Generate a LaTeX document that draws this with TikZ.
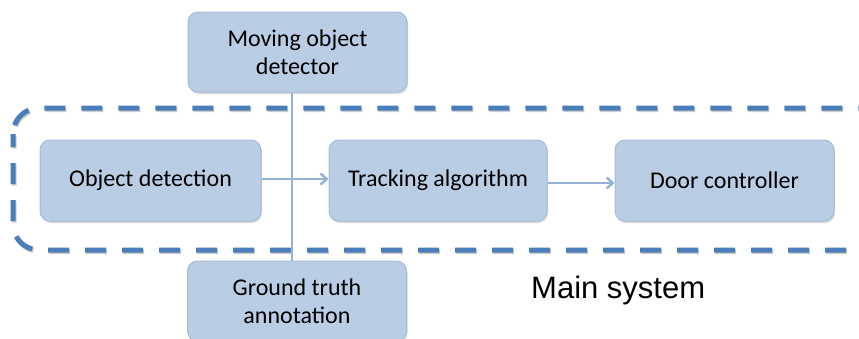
\documentclass[tikz,border=0pt]{standalone}
\usepackage{fontspec}
\setmainfont{Carlito}
\newfontfamily\labelfont{Liberation Sans}
\usetikzlibrary{arrows.meta,shadows}
\definecolor{boxfill}{HTML}{B9CDE5}
\definecolor{boxborder}{HTML}{A3BDDC}
\definecolor{connblue}{HTML}{95B3D7}
\definecolor{dashblue}{HTML}{4A7EBB}
\begin{document}
\begin{tikzpicture}[x=1pt,y=-1pt,
  box/.style={draw=boxborder, fill=boxfill, rounded corners=10pt, line width=1pt,
    minimum width=219pt, minimum height=80pt, align=center, inner sep=0pt,
    font=\fontsize{24pt}{28pt}\selectfont, text=black,
    drop shadow={shadow xshift=1pt, shadow yshift=-2pt, opacity=0.3}},
  conn/.style={draw=connblue, line width=2.5pt},
  arr/.style={conn, -{Straight Barb[length=6pt,width=11pt,line width=2.5pt]}},
  dashbox/.style={draw=dashblue, line width=5pt, rounded corners=26pt,
    dash pattern=on 21pt off 16pt, dash phase=8pt}
]
\useasboundingbox (0,0) rectangle (859,338);
\clip (0,0) rectangle (859,338);
% dashed main system frame (shadow then line)
\draw[dashbox, draw=black, opacity=0.2, shift={(1pt,-1.5pt)}] (13,108) rectangle (885,250);
\draw[dashbox] (13,108) rectangle (885,250);
% boxes
\node[box] (mod) at (297.5,52) {Moving object\\detector};
\node[box, minimum width=221pt, minimum height=81pt] (od) at (150.5,180.5) {Object detection};
\node[box, minimum width=218pt, minimum height=81pt] (tr) at (438,180.5) {Tracking algorithm};
\node[box, minimum height=81pt] (dc) at (724.5,180.5) {Door controller};
\node[box] (gt) at (297,301) {Ground truth\\annotation};
% connectors
\draw[conn] ([xshift=-5.5pt]mod.south) -- ([xshift=-5pt]gt.north);
\draw[arr] ([yshift=1.5pt]od.east) -- ([yshift=1.5pt]tr.west);
\draw[arr] ([yshift=-2.5pt]tr.east) -- ([yshift=-2.5pt]dc.west);
% label
\node[font=\labelfont\fontsize{31pt}{36pt}\selectfont, anchor=base west, inner sep=0pt, text=black] (ms) at (531,298) {Main system};
\end{tikzpicture}
\end{document}
